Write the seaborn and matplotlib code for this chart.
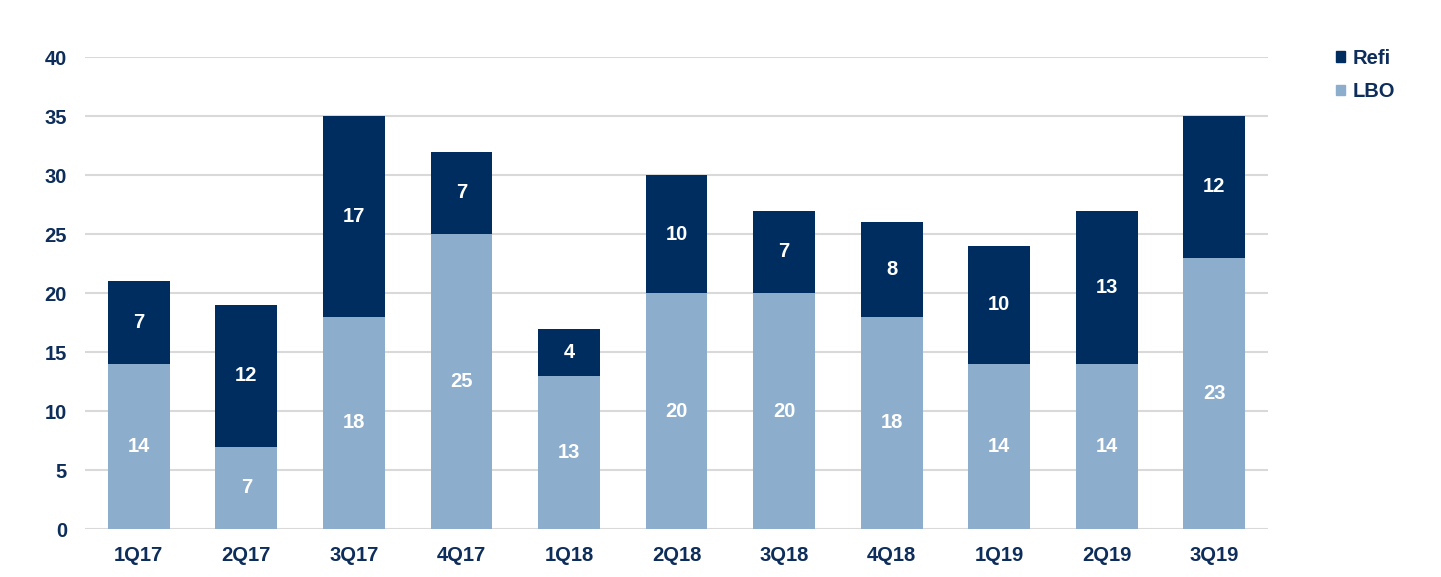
import pandas as pd
import numpy as np
import seaborn as sns
from matplotlib import pyplot as plt
from matplotlib.patches import Patch

# data
quarters = ['1Q17', '2Q17', '3Q17', '4Q17', '1Q18', '2Q18', '3Q18', '4Q18', '1Q19', '2Q19', '3Q19']
lbo = [14, 7, 18, 25, 13, 20, 20, 18, 14, 14, 23]
refi = [7, 12, 17, 7, 4, 10, 7, 8, 10, 13, 12]

dark = '#002D5F'
light = '#8DADCC'
txt = '#0D2D5A'
fs = 14.5

df = pd.DataFrame({'quarter': quarters, 'LBO': lbo, 'Refi': refi})
df['total'] = df['LBO'] + df['Refi']

sns.set_style('white')
plt.rcParams['font.family'] = ['Liberation Sans', 'DejaVu Sans']

fig = plt.figure(figsize=(14.41, 5.77), dpi=100)
ax = fig.add_axes([0.059, 0.083, 0.821, 0.818])

# stacked bars: totals in dark, LBO on top in light
sns.barplot(data=df, x='quarter', y='total', color=dark, width=0.575,
            saturation=1, linewidth=0, ax=ax, zorder=3)
sns.barplot(data=df, x='quarter', y='LBO', color=light, width=0.575,
            saturation=1, linewidth=0, ax=ax, zorder=3)

# value labels
for i, row in df.iterrows():
    ax.text(i, row['LBO'] / 2, str(row['LBO']), ha='center', va='center',
            color='white', fontsize=fs, fontweight='bold', zorder=4)
    ax.text(i, row['LBO'] + row['Refi'] / 2, str(row['Refi']), ha='center',
            va='center', color='white', fontsize=fs, fontweight='bold', zorder=4)

ax.set_ylim(0, 40)
ax.set_xlim(-0.5, len(quarters) - 0.5)
ax.set_yticks(range(0, 41, 5))
ax.yaxis.grid(True, color='#D9D9D9', linewidth=1.5, zorder=0)
ax.set_axisbelow(True)
for s in ax.spines.values():
    s.set_visible(False)
ax.set_xlabel('')
ax.set_ylabel('')
ax.tick_params(axis='both', length=0, labelsize=fs, labelcolor=txt)
ax.tick_params(axis='y', pad=13)
ax.tick_params(axis='x', pad=12)
for lab in ax.get_xticklabels() + ax.get_yticklabels():
    lab.set_fontweight('bold')

handles = [Patch(color=dark, label='Refi'), Patch(color=light, label='LBO')]
leg = fig.legend(handles=handles, loc='upper left', bbox_to_anchor=(0.927, 0.915),
                 frameon=False, handlelength=0.45, handleheight=0.45,
                 handletextpad=0.4, labelspacing=0.7, borderpad=0,
                 borderaxespad=0, fontsize=fs)
for t in leg.get_texts():
    t.set_color(txt)
    t.set_fontweight('bold')

fig.savefig('out.png', dpi=100)
